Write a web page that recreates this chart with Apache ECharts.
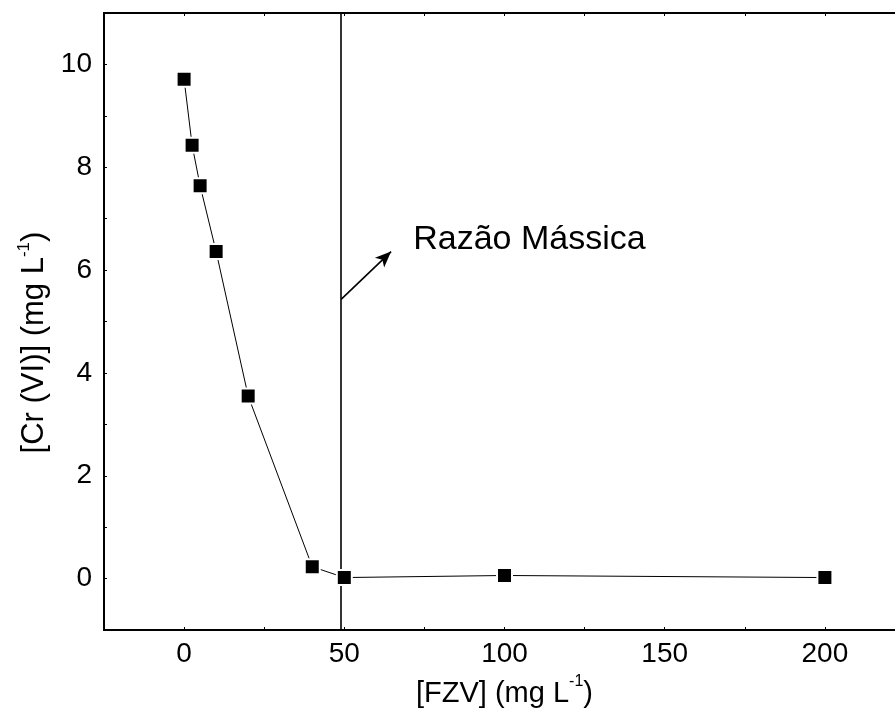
<!DOCTYPE html>
<html>
<head>
<meta charset="utf-8">
<script src="https://cdn.jsdelivr.net/npm/echarts@6/dist/echarts.min.js"></script>
<style>html,body{margin:0;padding:0;background:#fff;}#c{width:895px;height:725px;}</style>
</head>
<body>
<div id="c"></div>
<script>
const fzv = [0, 2.5, 5, 10, 20, 40, 50, 100, 200];
const cr = [9.71, 8.43, 7.64, 6.36, 3.55, 0.23, 0.02, 0.06, 0.02];
const xTicks = [0, 50, 100, 150, 200];
const yTicks = [0, 2, 4, 6, 8, 10];
const ratioX = 49;
const arrowFrom = [49, 5.43];
const arrowTo = [64.6, 6.36];
const noteAt = [71.5, 6.6];
const noteText = 'Razão Mássica';

const FONT = '"Liberation Sans", Arial, Helvetica, sans-serif';
const chart = echarts.init(document.getElementById('c'), null, {renderer: 'canvas'});
chart.setOption({
  animation: false,
  backgroundColor: '#fff',
  grid: {left: 104, top: 13, right: -10, bottom: 95, outerBoundsMode: 'none', containLabel: false,
    show: true, borderColor: '#000', borderWidth: 2, backgroundColor: 'transparent'},
  xAxis: [{
    type: 'value', min: -25, max: 225, interval: 25,
    axisLine: {show: true, onZero: false, lineStyle: {color: '#000', width: 2}},
    axisTick: {show: true, inside: true, length: 3, lineStyle: {color: '#000'}},
    splitLine: {show: false},
    axisLabel: {color: '#000', fontFamily: FONT, fontSize: 28, margin: 10,
      formatter: v => xTicks.includes(v) ? String(v) : ''},
    name: '{a|[FZV] (mg L}{s|-1}{a|)}', nameLocation: 'middle', nameGap: 44,
    nameTextStyle: {rich: {
      a: {fontFamily: FONT, fontSize: 29, color: '#000', verticalAlign: 'bottom', lineHeight: 34},
      s: {fontFamily: FONT, fontSize: 16, color: '#000', verticalAlign: 'top', padding: [0, 0, 16, 0], lineHeight: 34}
    }}
  }, {
    type: 'value', position: 'top', min: -25, max: 225, interval: 25,
    axisLine: {show: true, onZero: false, lineStyle: {color: '#000', width: 2}},
    axisTick: {show: true, inside: true, length: 3, lineStyle: {color: '#000'}},
    axisLabel: {show: false}, splitLine: {show: false}
  }],
  yAxis: {
    type: 'value', min: -1, max: 11, interval: 1,
    axisLine: {show: true, onZero: false, lineStyle: {color: '#000', width: 2}},
    axisTick: {show: true, inside: true, length: 3, lineStyle: {color: '#000'}},
    splitLine: {show: false},
    axisLabel: {color: '#000', fontFamily: FONT, fontSize: 28, margin: 12,
      formatter: v => yTicks.includes(v) ? String(v) : ''},
    name: '{a|[Cr (VI)] (mg L}{s|-1}{a|)}', nameLocation: 'middle', nameGap: 54, nameRotate: 90,
    nameTextStyle: {padding: [0, 42, 0, 0], rich: {
      a: {fontFamily: FONT, fontSize: 31, color: '#000', verticalAlign: 'bottom', lineHeight: 34},
      s: {fontFamily: FONT, fontSize: 17, color: '#000', verticalAlign: 'top', padding: [0, 0, 16, 0], lineHeight: 34}
    }}
  },
  series: [{
    type: 'line',
    data: fzv.map((x, i) => [x, cr[i]]),
    symbol: 'rect', symbolSize: 15,
    itemStyle: {color: '#000', borderColor: '#fff', borderWidth: 2},
    lineStyle: {color: '#000', width: 1},
    z: 5,
    markLine: {
      silent: true, animation: false,
      label: {show: false},
      data: [
        [{coord: [ratioX, -1], symbol: 'none'}, {coord: [ratioX, 11], symbol: 'none'}],
        [{coord: arrowFrom, symbol: 'none'}, {coord: arrowTo, symbol: 'arrow', symbolSize: [10, 16]}]
      ],
      lineStyle: {color: '#000', type: 'solid', width: 1.6}
    },
    markPoint: {
      silent: true, animation: false,
      symbol: 'circle', symbolSize: 0,
      label: {show: true, position: 'right', distance: 0, color: '#000', fontFamily: FONT, fontSize: 34,
        formatter: noteText},
      data: [{coord: noteAt}]
    }
  }]
});
</script>
</body>
</html>
